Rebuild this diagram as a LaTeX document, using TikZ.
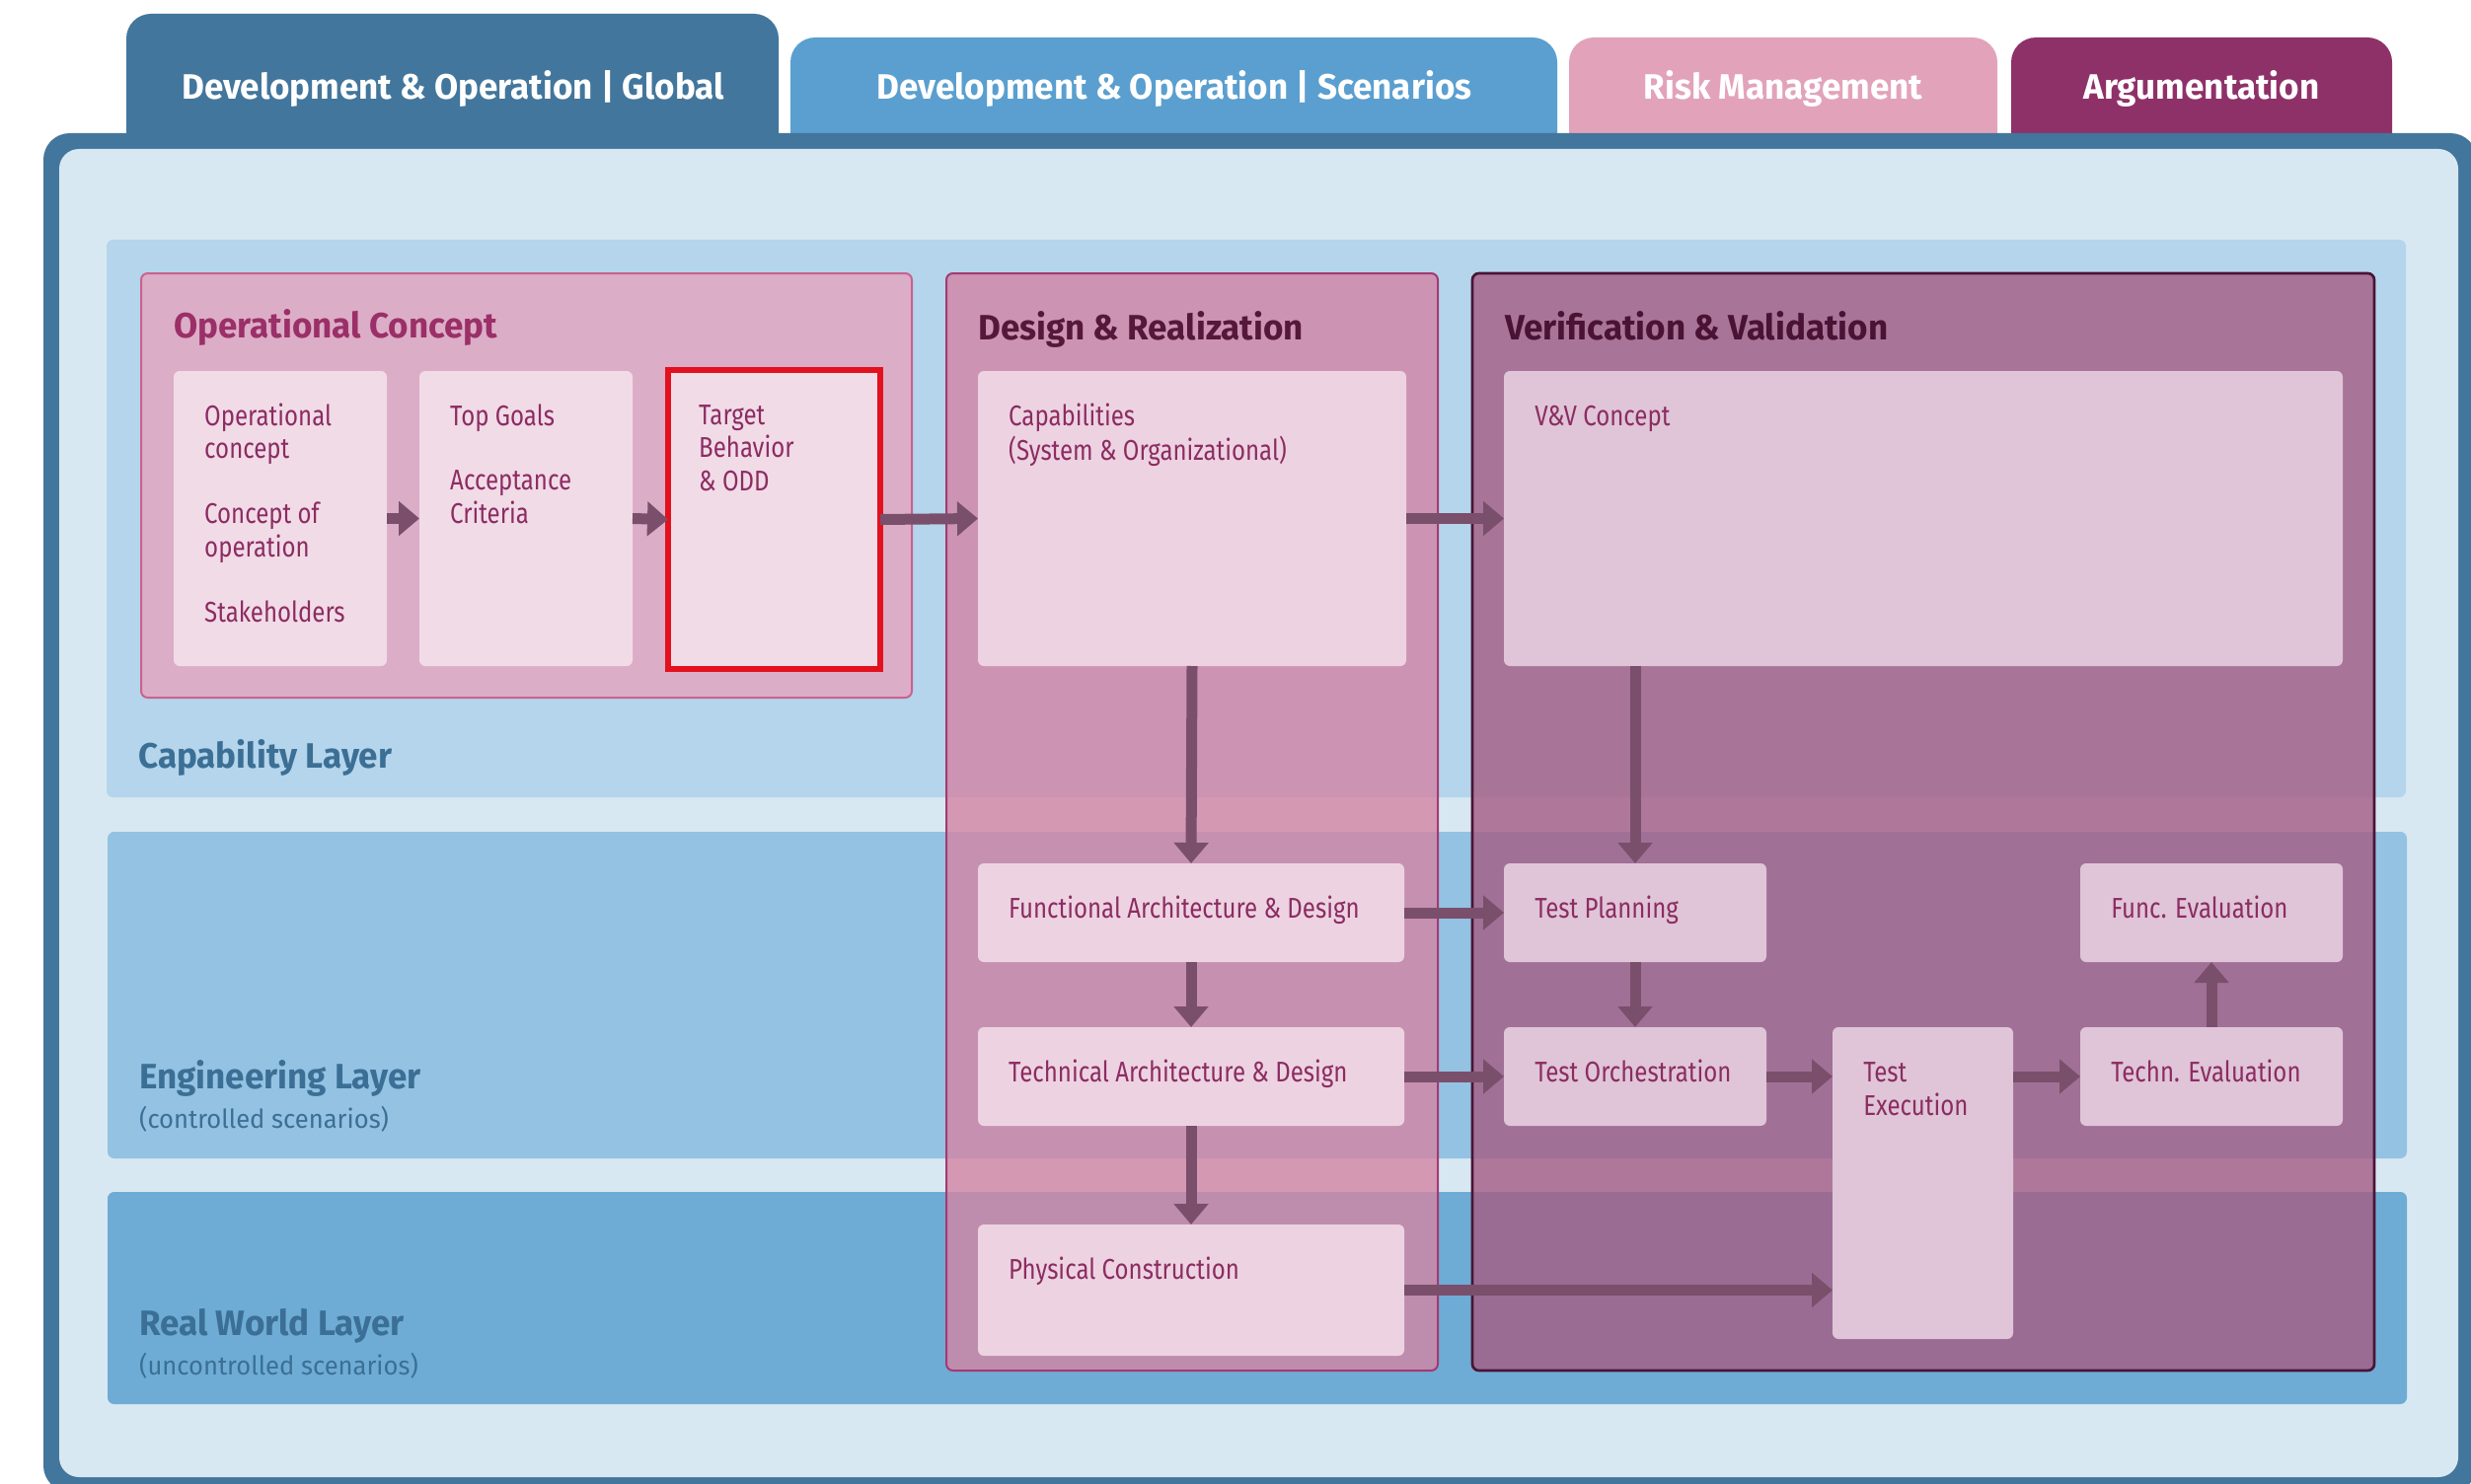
\documentclass[tikz,border=0pt]{standalone}
\usepackage{fontspec}
\setmainfont[FakeStretch=0.83]{Fira Sans}
\newfontfamily\headfam[FakeStretch=0.98]{Fira Sans}
\newfontfamily\subfam[FakeStretch=0.97]{Fira Sans}
\usetikzlibrary{arrows.meta}
\definecolor{frameblue}{HTML}{43769C}
\definecolor{tabtwo}{HTML}{5A9FCF}
\definecolor{tabthree}{HTML}{E2A3BA}
\definecolor{tabfour}{HTML}{8F3169}
\definecolor{innerbg}{HTML}{D8E8F2}
\definecolor{capband}{HTML}{B4D5EB}
\definecolor{engband}{HTML}{94C2E2}
\definecolor{rwband}{HTML}{6EACD5}
\definecolor{layertext}{HTML}{3B6F95}
\definecolor{ocfill}{HTML}{DCADC7}
\definecolor{ocdraw}{HTML}{C8628F}
\definecolor{drfill}{HTML}{D384A4}
\definecolor{drdraw}{HTML}{A33A72}
\definecolor{vvfill}{HTML}{A55C84}
\definecolor{vvdraw}{HTML}{4A1535}
\definecolor{ocinner}{HTML}{F1DBE7}
\definecolor{drinner}{HTML}{EDD3E1}
\definecolor{vvinner}{HTML}{DFC5D7}
\definecolor{boxtext}{HTML}{8C2C62}
\definecolor{octitle}{HTML}{9B2F68}
\definecolor{drtitle}{HTML}{55173A}
\definecolor{vvtitle}{HTML}{4A1233}
\definecolor{arrowcol}{HTML}{7A4F6B}
\definecolor{redmark}{HTML}{E3101E}

% style name x1 y1 x2 y2 text
\newcommand{\mkbox}[7]{%
  \node[#1, anchor=north west, minimum width={(#5-#3)*0.3mm}, minimum height={(#6-#4)*0.3mm}] (#2) at (#3,#4) {};
  \node[boxlabel] (#2-text) at (#3+31,#4+31) {\strut #7};
}
% style name x1 y1 x2 y2
\newcommand{\mkarea}[6]{%
  \node[#1, anchor=north west, minimum width={(#5-#3)*0.3mm}, minimum height={(#6-#4)*0.3mm}] (#2) at (#3,#4) {};
}

\begin{document}
\begin{tikzpicture}[x=0.3mm,y=-0.3mm,
  area/.style={inner sep=0, outer sep=0},
  tabshape/.style={area, rounded corners=7.5mm},
  band/.style={area, rounded corners=2mm},
  panel/.style={area, rounded corners=2mm, line width=0.6mm},
  ibox/.style={area, rounded corners=1.8mm},
  ocbox/.style={ibox, fill=ocinner},
  drbox/.style={ibox, fill=drinner},
  vvbox/.style={ibox, fill=vvinner},
  boxlabel/.style={anchor=north west, inner sep=0, align=left, text=boxtext, font=\fontsize{24.7}{29}\selectfont},
  tabtext/.style={anchor=base, inner sep=0, text=white, font=\headfam\fontsize{30.5}{36}\selectfont\bfseries},
  paneltitle/.style={anchor=base west, inner sep=0, font=\headfam\fontsize{30.5}{36}\selectfont\bfseries},
  layerlabel/.style={anchor=base west, inner sep=0, text=layertext, font=\headfam\fontsize{30.5}{36}\selectfont\bfseries},
  layersub/.style={anchor=base west, inner sep=0, text=layertext, font=\subfam\fontsize{22.5}{27}\selectfont},
  flow/.style={draw=arrowcol, line width=3.3mm, -{Triangle[length=6.3mm,width=10.2mm]}}
]
\useasboundingbox (0,0) rectangle (2504,1504);
\fill[white] (0,0) rectangle (2504,1504);

% tabs
\mkarea{tabshape, fill=frameblue}{tab1}{128}{14}{789}{200}
\mkarea{tabshape, fill=tabtwo}{tab2}{801}{38}{1578}{200}
\mkarea{tabshape, fill=tabthree}{tab3}{1590}{38}{2024}{200}
\mkarea{tabshape, fill=tabfour}{tab4}{2038}{38}{2424}{200}
\node[tabtext] (tab1-text) at (459,101) {Development \& Operation | Global};
\node[tabtext] (tab2-text) at (1190,101) {Development \& Operation | Scenarios};
\node[tabtext] (tab3-text) at (1807,101) {Risk Management};
\node[tabtext] (tab4-text) at (2231,101) {Argumentation};

% frame
\mkarea{area, fill=frameblue, rounded corners=8mm}{frame}{44}{135}{2510}{1512}
\mkarea{area, fill=innerbg, rounded corners=6mm}{inner}{60}{151}{2491}{1497}

% layer bands
\mkarea{band, fill=capband}{capb}{108}{243}{2438}{808}
\mkarea{band, fill=engband}{engb}{109}{843}{2439}{1174}
\mkarea{band, fill=rwband}{rwb}{109}{1208}{2439}{1423}
\node[layerlabel] (capl) at (140,778) {Capability Layer};
\node[layerlabel] (engl) at (141,1103) {Engineering Layer};
\node[layersub] (engs) at (141,1143) {(controlled scenarios)};
\node[layerlabel] (rwl) at (141,1353) {Real World Layer};
\node[layersub] (rws) at (141,1393) {(uncontrolled scenarios)};

% panels
\mkarea{panel, fill=ocfill, draw=ocdraw}{ocp}{143}{277}{924}{707}
\mkarea{panel, fill=drfill, fill opacity=0.8, draw=drdraw}{drp}{959}{277}{1457}{1389}
\mkarea{panel, fill=vvfill, fill opacity=0.8, draw=vvdraw, line width=0.8mm}{vvp}{1492}{277}{2406}{1389}
\node[paneltitle, text=octitle] (oct) at (176,342) {Operational Concept};
\node[paneltitle, text=drtitle] (drt) at (991,344) {Design \& Realization};
\node[paneltitle, text=vvtitle] (vvt) at (1525,344) {Verification \& Validation};

% boxes
\mkbox{ocbox}{oc1}{176}{376}{392}{675}{Operational\\concept\\[27.3pt]Concept of\\operation\\[27.3pt]Stakeholders}
\mkbox{ocbox}{oc2}{425}{376}{641}{675}{Top Goals\\[27.3pt]Acceptance\\Criteria}
\mkbox{ocbox}{oc3}{677}{375}{892}{678}{Target\\Behavior\\\& ODD}
\draw[redmark, line width=1.8mm] (oc3.north west) rectangle (oc3.south east);

\mkbox{drbox}{cap}{991}{376}{1425}{675}{Capabilities\\(System \& Organizational)}
\mkbox{drbox}{fad}{991}{875}{1423}{975}{Functional Architecture \& Design}
\mkbox{drbox}{tad}{991}{1041}{1423}{1141}{Technical Architecture \& Design}
\mkbox{drbox}{phc}{991}{1241}{1423}{1374}{Physical Construction}

\mkbox{vvbox}{vvc}{1524}{376}{2374}{675}{V\&V Concept}
\mkbox{vvbox}{tpl}{1524}{875}{1790}{975}{Test Planning}
\mkbox{vvbox}{tor}{1524}{1041}{1790}{1141}{Test Orchestration}
\mkbox{vvbox}{tex}{1857}{1041}{2040}{1357}{Test\\Execution}
\mkbox{vvbox}{fev}{2108}{875}{2374}{975}{Func. Evaluation}
\mkbox{vvbox}{tev}{2108}{1041}{2374}{1141}{Techn. Evaluation}

% connectors
\draw[flow] (oc1.east) -- (oc2.west);
\draw[flow] (oc2.east) -- (oc3.west);
\draw[flow] (oc3.east) -- (cap.west);
\draw[flow] (cap.east) -- (vvc.west);
\draw[flow] (cap.south) -- (fad.north);
\draw[flow] (fad.south) -- (tad.north);
\draw[flow] (tad.south) -- (phc.north);
\draw[flow] (vvc.south -| tpl.north) -- (tpl.north);
\draw[flow] (tpl.south) -- (tor.north);
\draw[flow] (fad.east) -- (tpl.west);
\draw[flow] (tad.east) -- (tor.west);
\draw[flow] (tor.east) -- (tor.east -| tex.west);
\draw[flow] (phc.east) -- (phc.east -| tex.west);
\draw[flow] (tex.east |- tev.west) -- (tev.west);
\draw[flow] (tev.north) -- (fev.south);
\end{tikzpicture}
\end{document}
